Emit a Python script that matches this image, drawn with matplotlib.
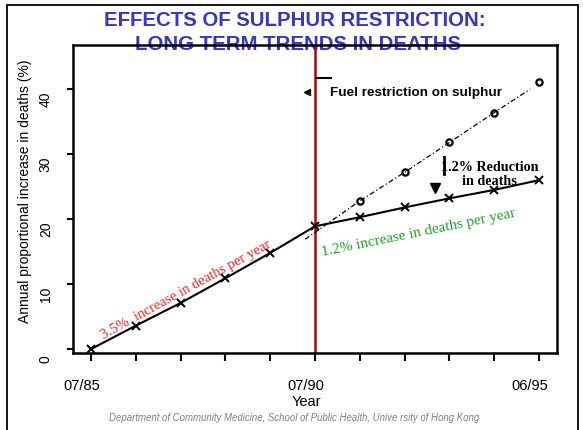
import matplotlib
matplotlib.use("Agg")
import matplotlib.pyplot as plt
import matplotlib.transforms as mtransforms
from matplotlib.patches import Rectangle

# Datos
posiciones = [0, 1, 2, 3, 4, 5, 6, 7, 8, 9, 10]
muertes_observadas = [0, 3.6, 7.1, 10.9, 14.8, 18.9, 20.3, 21.8, 23.2, 24.5, 26.0]
posiciones_proyeccion = [4.78, 6, 7, 8, 9, 10]
muertes_proyectadas = [16.9, 22.8, 27.2, 31.8, 36.4, 41.1]
etiquetas_x = ["07/85", "", "", "", "", "07/90", "", "", "", "", "06/95"]
ticks_y = [0, 10, 20, 30, 40]
restriccion = 5

azul = "#3535CC"

plt.rcParams['font.family'] = ['Liberation Sans', 'DejaVu Sans']

fig = plt.figure(figsize=(5.83, 4.31), dpi=100)
ax = fig.add_axes([73 / 583, 1 - 354 / 431, 484 / 583, 308 / 431])
ax.set_facecolor('none')

# Serie observada y proyección
ax.plot(posiciones, muertes_observadas, color='black', lw=1.5, marker='x', ms=6, mew=1.4, zorder=4)
ax.plot(posiciones_proyeccion[1:], muertes_proyectadas[1:], ls='none', marker='o', ms=4.5,
        mfc='none', mec='black', mew=1.6, zorder=4)
ax.plot(posiciones_proyeccion[:-1] + [9.8], muertes_proyectadas[:-1] + [40.0], color='black', lw=0.9,
        ls=(0, (4, 2, 1, 2)), zorder=3)

# Línea de la restricción de combustible
ax.axvline(restriccion, color='#C00000', lw=1.8, zorder=2)

ax.set_xlim(-0.40, 10.40)
ax.set_ylim(-0.6, 46.8)
ax.set_xticks(posiciones)
ax.set_xticklabels(etiquetas_x, fontsize=10.5)
ax.set_yticks(ticks_y)
ax.set_yticklabels([str(v) for v in ticks_y], rotation=90, va='center', fontsize=10)
ax.tick_params(axis='x', length=6, width=1.5, pad=12)
ax.tick_params(axis='y', length=4.5, width=1.5, pad=10)
for spine in ax.spines.values():
    spine.set_linewidth(1.8)

# Desplazar etiquetas como en el original
for lab in ax.get_xticklabels():
    lab.set_transform(lab.get_transform() + mtransforms.ScaledTranslation(-9 / 100, 0, fig.dpi_scale_trans))
for lab in ax.get_yticklabels():
    lab.set_transform(lab.get_transform() + mtransforms.ScaledTranslation(0, -9 / 100, fig.dpi_scale_trans))

# Anotaciones
ax.plot([restriccion, 5.38], [41.7, 41.7], color='black', lw=1.5, solid_capstyle='butt')
ax.plot([4.82], [39.5], marker='<', color='black', ms=4)
ax.text(5.33, 39.5, "Fuel restriction on sulphur", fontsize=9.7, fontweight='bold', va='center', ha='left')
ax.text(8.9, 27.0, "1.2% Reduction\nin deaths", fontsize=10.2, fontweight='bold',
        family=['Liberation Serif', 'DejaVu Serif'], ha='center', va='center', linespacing=1.1)
ax.plot([7.88, 7.88], [26.9, 29.5], color='black', lw=2)
ax.plot([7.68], [24.8], marker='v', color='black', ms=7)
ax.text(7.3, 18.0, "1.2% increase in deaths per year", fontsize=11, color='#22A022',
        family=['Liberation Serif', 'DejaVu Serif'], rotation=11.5, rotation_mode='anchor',
        ha='center', va='center')
ax.text(2.13, 9.2, "3.5%  increase in deaths per year", fontsize=10.5, color='#FF2020',
        family=['Liberation Serif', 'DejaVu Serif'], rotation=28.8, rotation_mode='anchor',
        ha='center', va='center')

# Títulos y textos de la figura
fig.text(295 / 583, 1 - 21 / 431, "EFFECTS OF SULPHUR RESTRICTION:", color=azul, fontsize=14.7,
         fontweight='bold', ha='center', va='center')
fig.text(298 / 583, 1 - 45 / 431, "LONG TERM TRENDS IN DEATHS", color=azul, fontsize=14.7,
         fontweight='bold', ha='center', va='center', zorder=-1)
fig.text(25 / 583, 1 - 191.5 / 431, "Annual proportional increase in deaths (%)", rotation=90,
         fontsize=10, ha='center', va='center')
fig.text(306 / 583, 1 - 402 / 431, "Year", fontsize=10.5, ha='center', va='center')
fig.text(294 / 583, 1 - 418 / 431,
         "Department of Community Medicine, School of Public Health, Unive rsity of Hong Kong",
         fontsize=6.9, style='italic', color='#808080', ha='center', va='center')

# Marco exterior
fig.patches.append(Rectangle((7 / 583, -0.02), 571 / 583, 1.02 - 5.5 / 431, transform=fig.transFigure,
                             fill=False, lw=1.3, edgecolor='black'))

fig.savefig("out.png", dpi=100)
